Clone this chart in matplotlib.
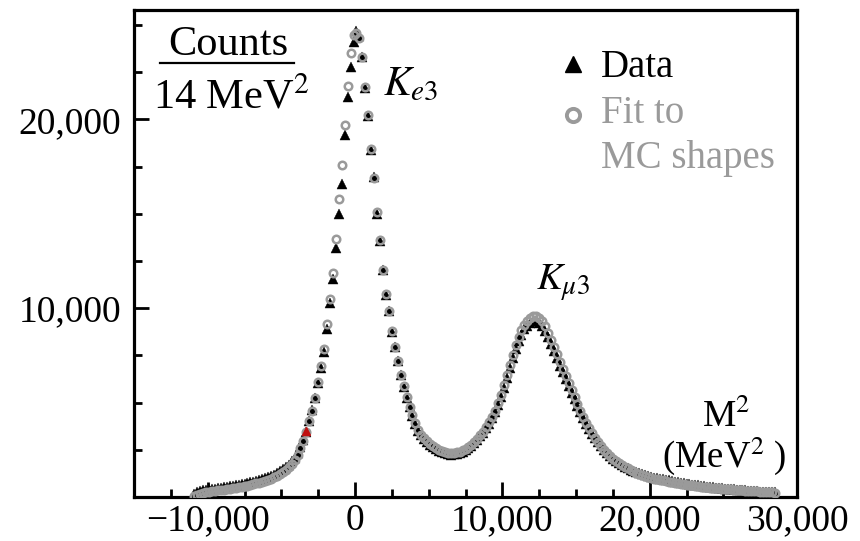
import numpy as np
import matplotlib
matplotlib.use("Agg")
import matplotlib.pyplot as plt
from matplotlib.lines import Line2D
from matplotlib.ticker import MultipleLocator

# ---------------- data ----------------
m2_start = -10900      # MeV^2, first bin centre
m2_step = 200          # MeV^2, spacing of plotted points

data_counts = [
    150, 260, 310, 345, 375, 400, 425, 450, 470, 495,
    520, 545, 570, 595, 620, 650, 680, 710, 745, 780,
    820, 860, 905, 950, 1000, 1060, 1120, 1190, 1270, 1360,
    1460, 1580, 1720, 1890, 2090, 2340, 2650, 3020, 3450, 4050,
    4600, 5250, 6050, 6850, 7700, 8900, 10300, 11550, 13200, 15000,
    16600, 19200, 21200, 22800, 24100, 24700, 24400, 23300, 21650, 20200,
    18400, 16950, 15000, 13550, 12000, 10700, 9850, 8750, 7950, 7200,
    6450, 5850, 5250, 4750, 4280, 3880, 3520, 3260, 3060, 2900,
    2770, 2640, 2540, 2450, 2370, 2310, 2270, 2250, 2260, 2300,
    2350, 2410, 2490, 2590, 2710, 2860, 3030, 3210, 3400, 3630,
    3890, 4170, 4500, 4880, 5320, 5800, 6320, 6860, 7380, 7860,
    8260, 8600, 8880, 9080, 9230, 9310, 9300, 9220, 9060, 8800,
    8470, 8110, 7730, 7340, 6960, 6600, 6240, 5880, 5520, 5170,
    4820, 4490, 4170, 3870, 3600, 3350, 3110, 2890, 2680, 2490,
    2320, 2170, 2030, 1910, 1800, 1700, 1610, 1530, 1450, 1380,
    1320, 1260, 1210, 1160, 1110, 1070, 1030, 1000, 955, 940,
    895, 880, 835, 820, 775, 760, 720, 710, 670, 660,
    620, 615, 580, 575, 540, 535, 505, 500, 470, 465,
    445, 440, 410, 405, 380, 380, 360, 355, 335, 335,
    310, 310, 290, 285, 270, 265, 255, 240,
]

fit_counts = [
    60, 130, 180, 220, 250, 280, 300, 325, 345, 370,
    390, 415, 440, 465, 490, 515, 545, 575, 605, 640,
    680, 720, 765, 810, 860, 915, 975, 1045, 1125, 1215,
    1320, 1440, 1590, 1770, 1980, 2240, 2570, 2960, 3420, 4000,
    4580, 5260, 6100, 6950, 7850, 9150, 10500, 11850, 13650, 15800,
    17600, 19700, 21800, 23500, 24500, 24600, 24300, 23300, 21700, 20250,
    18450, 16900, 15100, 13600, 12000, 10750, 9850, 8780, 7960, 7220,
    6470, 5870, 5280, 4780, 4320, 3920, 3570, 3310, 3110, 2950,
    2820, 2700, 2600, 2510, 2440, 2380, 2340, 2320, 2330, 2360,
    2410, 2470, 2550, 2650, 2770, 2920, 3090, 3270, 3470, 3700,
    3960, 4250, 4580, 4970, 5420, 5910, 6440, 6990, 7530, 8030,
    8460, 8830, 9130, 9350, 9500, 9580, 9580, 9490, 9310, 9040,
    8710, 8340, 7950, 7550, 7150, 6770, 6390, 6020, 5650, 5290,
    4930, 4580, 4250, 3940, 3650, 3380, 3130, 2900, 2690, 2500,
    2330, 2170, 2030, 1900, 1790, 1690, 1590, 1510, 1430, 1360,
    1290, 1230, 1170, 1120, 1070, 1020, 980, 945, 910, 880,
    850, 820, 790, 760, 735, 710, 685, 660, 635, 615,
    595, 575, 555, 535, 515, 500, 485, 470, 455, 440,
    425, 410, 398, 386, 374, 362, 350, 338, 326, 315,
    304, 293, 282, 272, 262, 252, 242, 232,
]

odd_m2 = [-3300]        # one red-coloured data point
odd_counts = [3500]

xtick_values = [-10000, 0, 10000, 20000, 30000]
xtick_labels = ["\u221210,000", "0", "10,000", "20,000", "30,000"]
ytick_values = [10000, 20000]
ytick_labels = ["10,000", "20,000"]

m2 = m2_start + m2_step * np.arange(len(data_counts))

# ---------------- style ----------------
plt.rcParams['font.family'] = ['Liberation Serif', 'DejaVu Serif']
plt.rcParams['mathtext.fontset'] = 'stix'

W, H = 860, 541
fig = plt.figure(figsize=(W / 100, H / 100), dpi=100)
L, R, T, B = 134, 797, 10, 497
ax = fig.add_axes([L / W, 1 - B / H, (R - L) / W, (B - T) / H])

grey = '#9a9a9a'
ax.plot(m2, data_counts, ls='none', marker='^', ms=7.2, color='black',
        mec='black', mew=0.3, zorder=3)
ax.plot(m2, fit_counts, ls='none', marker='o', ms=5.4, mfc='none',
        mec=grey, mew=1.8, zorder=4)
ax.plot(odd_m2, odd_counts, ls='none', marker='^', ms=5.5, color='#c01010',
        zorder=5)

ax.set_xlim(-15000, 30000)
ax.set_ylim(0, 25800)
ax.set_xticks(xtick_values)
ax.set_xticklabels(xtick_labels)
ax.set_yticks(ytick_values)
ax.set_yticklabels(ytick_labels)
ax.xaxis.set_minor_locator(MultipleLocator(2500))
ax.yaxis.set_minor_locator(MultipleLocator(2500))
ax.tick_params(which='both', direction='in', top=False, right=False,
               width=2.0, color='black')
ax.tick_params(which='major', length=11, labelsize=27)
ax.tick_params(which='minor', length=6)
ax.tick_params(axis='x', which='major', pad=5)
ax.tick_params(axis='y', which='major', pad=9)
for s in ax.spines.values():
    s.set_linewidth(2.3)
    s.set_color('black')

def fx(px):
    return px / W

def fy(py):
    return 1 - py / H

# y-axis label as a fraction
fig.text(fx(228), fy(55), "Counts", ha='center', va='baseline', fontsize=30.5)
fig.add_artist(Line2D([fx(160), fx(294)], [fy(63), fy(63)], color='black', lw=1.6))
fig.text(fx(231), fy(108), "14 MeV$^2$", ha='center', va='baseline', fontsize=30.5)

# peak labels
fig.text(fx(383), fy(95), r"$K_{e3}$", ha='left', va='baseline', fontsize=30)
fig.text(fx(536), fy(290), r"$K_{\mu 3}$", ha='left', va='baseline', fontsize=28)

# x-axis label
fig.text(fx(702), fy(427), "M$^2$", ha='left', va='baseline', fontsize=27)
fig.text(fx(662), fy(467), "(MeV$^2$ )", ha='left', va='baseline', fontsize=26.5)

# legend
fig.add_artist(Line2D([fx(573)], [fy(64)], ls='none', marker='^', ms=12,
                      color='black'))
fig.add_artist(Line2D([fx(573)], [fy(115)], ls='none', marker='o', ms=9.5,
                      mfc='none', mec=grey, mew=2.8))
fig.text(fx(601), fy(77), "Data", ha='left', va='baseline', fontsize=28, color='black')
fig.text(fx(601), fy(123), "Fit to", ha='left', va='baseline', fontsize=28, color=grey)
fig.text(fx(601), fy(168), "MC shapes", ha='left', va='baseline', fontsize=28, color=grey)

fig.savefig("out.png", dpi=100)
